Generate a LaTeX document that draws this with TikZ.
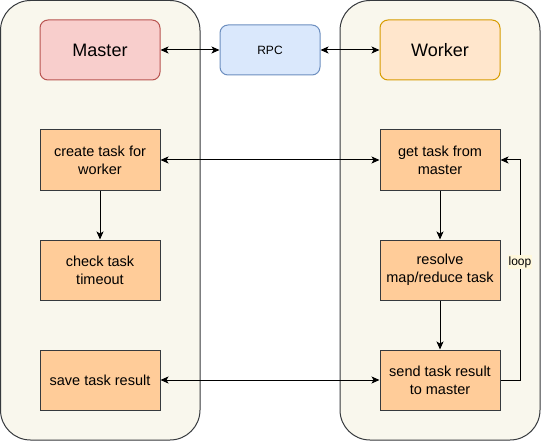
\documentclass[tikz,border=0pt]{standalone}
\usepackage{fontspec}
\setmainfont{Liberation Sans}
\usetikzlibrary{arrows.meta}
\definecolor{panelfill}{HTML}{F9F7ED}
\definecolor{panelline}{HTML}{36393D}
\definecolor{mfill}{HTML}{F8CECC}
\definecolor{mline}{HTML}{B85450}
\definecolor{rfill}{HTML}{DAE8FC}
\definecolor{rline}{HTML}{6C8EBF}
\definecolor{wfill}{HTML}{FFE6CC}
\definecolor{wline}{HTML}{D79B00}
\definecolor{tfill}{HTML}{FFCC99}
\definecolor{loopbg}{HTML}{FFF8DC}
\tikzset{
  panel/.style={draw=panelline, fill=panelfill, line width=1pt, rounded corners=30pt},
  head/.style={draw=#1line, fill=#1fill, line width=1pt, rounded corners=8pt, minimum width=120pt, minimum height=60pt, inner sep=0pt, font=\fontsize{18}{21}\selectfont},
  taskbox/.style={draw=panelline, fill=tfill, line width=1pt, minimum width=120pt, minimum height=60pt, inner sep=0pt, align=center, font=\fontsize{14.5}{18}\selectfont},
  conn/.style={line width=1pt, -{Stealth[length=8pt,width=7pt,inset=2pt]}},
  biconn/.style={line width=1pt, {Stealth[length=8pt,width=7pt,inset=2pt]}-{Stealth[length=8pt,width=7pt,inset=2pt]}},
}
\begin{document}
\begin{tikzpicture}[x=1pt,y=-1pt]
\useasboundingbox (0,0) rectangle (541,441);
\draw[panel] (0.5,0.5) rectangle (200,440);
\draw[panel] (340,0.5) rectangle (540,440);
\node[head=m] (master) at (100,50) {Master};
\node[head=r, minimum width=100pt, minimum height=50pt, font=\fontsize{12}{14}\selectfont] (rpc) at (270,50) {RPC};
\node[head=w] (worker) at (440,50) {Worker};
\node[taskbox] (create) at (100,160) {create task for\\worker};
\node[taskbox] (check) at (100,270) {check task\\timeout};
\node[taskbox] (save) at (100,380) {save task result};
\node[taskbox] (get) at (440,160) {get task from\\master};
\node[taskbox] (resolve) at (440,270) {resolve\\map/reduce task};
\node[taskbox] (send) at (440,380) {send task result\\to master};
\draw[biconn] (master) -- (rpc);
\draw[biconn] (rpc) -- (worker);
\draw[biconn] (create) -- (get);
\draw[biconn] (save) -- (send);
\draw[conn] (create) -- (check);
\draw[conn] (get) -- (resolve);
\draw[conn] (resolve) -- (send);
\coordinate (lb) at (520,380);
\coordinate (lt) at (520,160);
\draw[conn] (send.east) -- (lb) -- (lt) -- (get.east);
\node[fill=loopbg, inner sep=1pt, font=\fontsize{12}{14}\selectfont] (looplbl) at (520,262) {loop};
\end{tikzpicture}
\end{document}
